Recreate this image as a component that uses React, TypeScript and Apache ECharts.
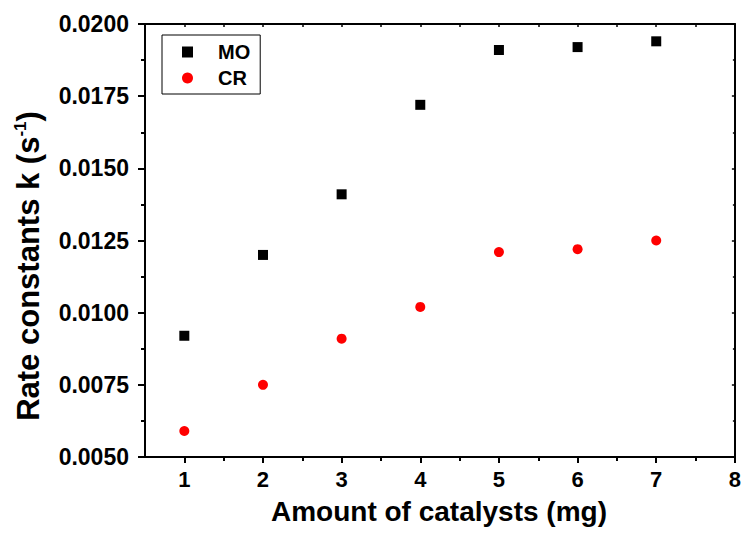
import React, { useEffect, useRef } from "react";
import * as echarts from "echarts";

const xValues = [1, 2, 3, 4, 5, 6, 7];
const moValues = [0.0092, 0.012, 0.0141, 0.0172, 0.0191, 0.0192, 0.0194];
const crValues = [0.0059, 0.0075, 0.0091, 0.0102, 0.0121, 0.0122, 0.0125];
const xMajorTicks = [1, 2, 3, 4, 5, 6, 7, 8];
const xMinorTicks = [1.5, 2.5, 3.5, 4.5, 5.5, 6.5, 7.5];
const xTopTicks = [1, 1.5, 2, 2.5, 3, 3.5, 4, 4.5, 5, 5.5, 6, 6.5, 7, 7.5, 8];

const FONT = "Liberation Sans, Arial, sans-serif";

export default function App() {
  const ref = useRef<HTMLDivElement>(null);
  useEffect(() => {
    if (!ref.current) return;
    const chart = echarts.init(ref.current, null, { renderer: "svg" });
    const line = { show: true, lineStyle: { color: "#000", width: 2 } };
    const xCommon = { type: "value", min: 0.5, max: 8, splitLine: { show: false } };
    const yCommon = { type: "value", min: 0.005, max: 0.02, interval: 0.0025, splitLine: { show: false } };
    chart.setOption({
      animation: false,
      backgroundColor: "#fff",
      grid: { left: 145, top: 24, right: 7, bottom: 76 },
      legend: {
        orient: "vertical",
        left: 162,
        top: 35,
        data: [
          { name: "MO", icon: "rect" },
          { name: "CR", icon: "circle" },
        ],
        itemWidth: 11,
        itemHeight: 11,
        itemGap: 6,
        padding: [7, 10, 6, 20],
        borderColor: "#000",
        borderWidth: 1,
        textStyle: { fontFamily: FONT, fontWeight: "bold", fontSize: 20, color: "#000", padding: [0, 0, 0, 20] },
      },
      xAxis: [
        {
          ...xCommon,
          position: "bottom",
          axisLine: line,
          axisTick: { show: true, customValues: xMajorTicks, length: 6, inside: false, lineStyle: { width: 2, color: "#000" } },
          axisLabel: {
            customValues: xMajorTicks,
            fontFamily: FONT,
            fontWeight: "bold",
            fontSize: 22,
            color: "#000",
            margin: 11,
            showMaxLabel: true,
            hideOverlap: false,
          },
        },
        {
          ...xCommon,
          position: "bottom",
          axisLine: { show: false },
          axisTick: { show: true, customValues: xMinorTicks, length: 4, inside: false, lineStyle: { width: 2, color: "#000" } },
          axisLabel: { show: false },
        },
        {
          ...xCommon,
          position: "top",
          axisLine: line,
          axisTick: { show: true, customValues: xTopTicks, length: 3, inside: true, lineStyle: { width: 1.5, color: "#000" } },
          axisLabel: { show: false },
        },
      ],
      yAxis: [
        {
          ...yCommon,
          position: "left",
          axisLine: line,
          axisTick: { show: true, length: 7, lineStyle: { width: 2, color: "#000" } },
          minorTick: { show: true, splitNumber: 2, length: 4, lineStyle: { width: 2, color: "#000" } },
          axisLabel: {
            fontFamily: FONT,
            fontWeight: "bold",
            fontSize: 23,
            color: "#000",
            margin: 16,
            formatter: (v: number) => v.toFixed(4),
          },
        },
        {
          ...yCommon,
          position: "right",
          axisLine: line,
          axisTick: { show: true, inside: true, length: 3, lineStyle: { width: 1.5, color: "#000" } },
          minorTick: { show: true, splitNumber: 2, length: 2, lineStyle: { width: 1.5, color: "#000" } },
          axisLabel: { show: false },
        },
      ],
      series: [
        {
          name: "MO",
          type: "scatter",
          symbol: "rect",
          symbolSize: 10,
          itemStyle: { color: "#000", opacity: 1 },
          data: xValues.map((x, i) => [x, moValues[i]]),
        },
        {
          name: "CR",
          type: "scatter",
          symbol: "circle",
          symbolSize: 10,
          itemStyle: { color: "#ff0000", opacity: 1 },
          data: xValues.map((x, i) => [x, crValues[i]]),
        },
      ],
      graphic: [
        {
          type: "text",
          x: 439,
          y: 511,
          style: {
            text: "Amount of catalysts (mg)",
            fontFamily: FONT,
            fontWeight: "bold",
            fontSize: 28,
            fill: "#000",
            align: "center",
            verticalAlign: "middle",
          },
        },
        {
          type: "text",
          x: 28,
          y: 266,
          rotation: Math.PI / 2,
          style: {
            text: "{a|Rate constants k (s}{s|-1}{a|)}",
            align: "center",
            verticalAlign: "middle",
            rich: {
              a: { fontFamily: FONT, fontWeight: "bold", fontSize: 31, fill: "#000", lineHeight: 35 },
              s: { fontFamily: FONT, fontWeight: "bold", fontSize: 17, fill: "#000", padding: [0, 0, 16, 0] },
            },
          },
        },
      ],
    });
    return () => chart.dispose();
  }, []);
  return <div ref={ref} style={{ position: "absolute", left: 0, top: 0, width: 744, height: 533 }} />;
}
